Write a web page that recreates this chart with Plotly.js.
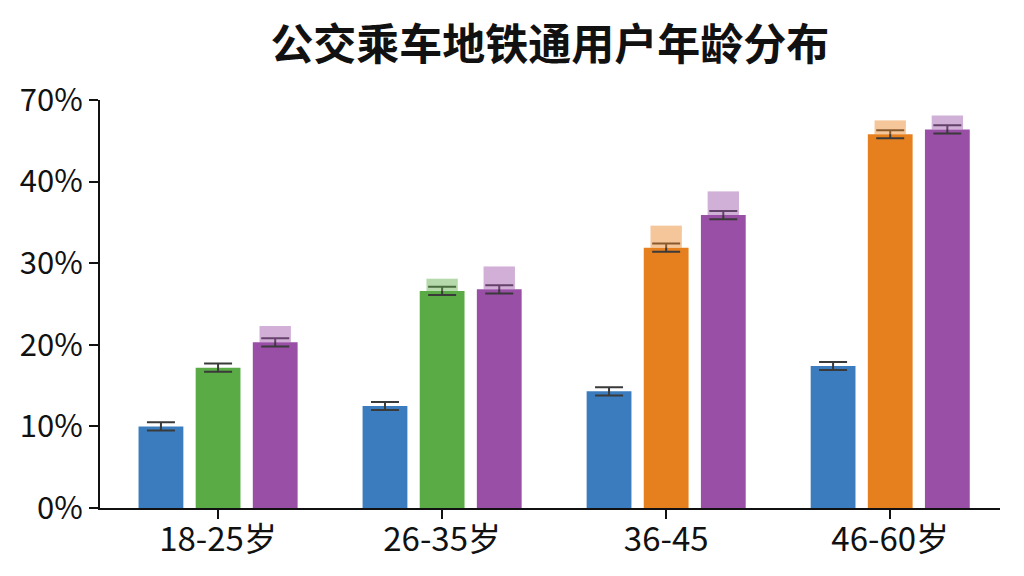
<!DOCTYPE html>
<html>
<head>
<meta charset="utf-8">
<script src="https://cdn.plot.ly/plotly-3.0.1.min.js"></script>
<style>
  html, body { margin: 0; padding: 0; background: #fff; }
  #chart { width: 1024px; height: 576px; }
</style>
</head>
<body>
<div id="chart"></div>
<script>
// 数据
var categories = ["18-25岁", "26-35岁", "36-45", "46-60岁"];
var blueVals = [10.0, 12.5, 14.3, 17.4];
var midVals = [17.2, 26.6, 31.9, 45.8];
var purpleVals = [20.3, 26.8, 35.9, 46.4];
var midColors = ["#5aab45", "#5aab45", "#e6801f", "#e6801f"];
var midCaps = [0, 1.5, 2.7, 1.7];
var purpleCaps = [2.0, 2.8, 2.9, 1.7];
var errVals = [0.5, 0.5, 0.5, 0.5];
var yTickVals = [0, 10, 20, 30, 40, 50];
var yTickText = ["0%", "10%", "20%", "30%", "40%", "70%"];

var BLUE = "#3b7cbe";
var PURPLE = "#9a4fa7";
var barW = 0.2;
var capW = 0.14;
var step = 0.255;

function mainBar(vals, color, k) {
  return {
    type: "bar",
    x: categories,
    y: vals,
    width: barW,
    offset: k * step - barW / 2,
    marker: { color: color },
    error_y: {
      type: "data",
      array: errVals,
      color: "#3a3a3a",
      thickness: 2,
      width: 14,
    },
    hoverinfo: "y",
    showlegend: false,
  };
}

function capBar(vals, base, color, k) {
  return {
    type: "bar",
    x: categories,
    y: vals,
    base: base,
    width: capW,
    offset: k * step - capW / 2,
    marker: { color: color },
    opacity: 0.45,
    hoverinfo: "skip",
    showlegend: false,
  };
}

var data = [
  mainBar(blueVals, BLUE, -1),
  mainBar(midVals, midColors, 0),
  mainBar(purpleVals, PURPLE, 1),
  capBar(midCaps, midVals, midColors, 0),
  capBar(purpleCaps, purpleVals, PURPLE, 1),
];

var layout = {
  width: 1024,
  height: 576,
  margin: { l: 100, r: 24, t: 100, b: 68 },
  paper_bgcolor: "#fff",
  plot_bgcolor: "#fff",
  barmode: "overlay",
  font: { family: "Noto Sans CJK SC, Noto Sans, sans-serif", color: "#111" },
  title: {
    text: "<b>公交乘车地铁通用户年龄分布</b>",
    x: 0.537,
    xanchor: "center",
    y: 0.922,
    yanchor: "middle",
    font: { size: 43, color: "#111" },
  },
  xaxis: {
    type: "category",
    range: [-0.527, 3.49],
    showline: true,
    linecolor: "#111",
    linewidth: 2,
    ticks: "outside",
    ticklen: 9,
    tickwidth: 2,
    tickcolor: "#111",
    ticklabelstandoff: -8,
    showgrid: false,
    zeroline: false,
    tickfont: { size: 33, color: "#111" },
  },
  yaxis: {
    range: [0, 50],
    tickvals: yTickVals,
    ticktext: yTickText,
    showline: true,
    linecolor: "#111",
    linewidth: 2,
    ticks: "outside",
    ticklen: 9,
    tickwidth: 2,
    tickcolor: "#111",
    showgrid: false,
    zeroline: false,
    tickfont: { size: 31, color: "#111" },
  },
};

Plotly.newPlot("chart", data, layout, { displayModeBar: false });
</script>
</body>
</html>
